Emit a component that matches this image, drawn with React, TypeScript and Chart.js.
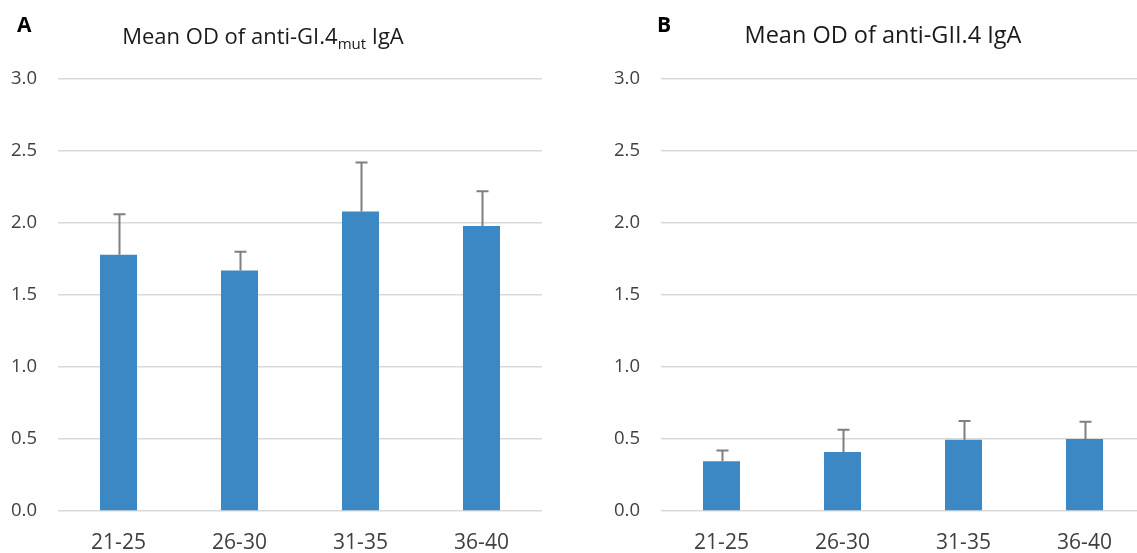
import React, { useEffect, useRef } from "react";
import { Chart, registerables } from "chart.js";

Chart.register(...registerables);

const categories = ["21-25", "26-30", "31-35", "36-40"];
const meanA = [1.78, 1.67, 2.08, 1.98];
const sdA = [0.28, 0.13, 0.34, 0.24];
const meanB = [0.345, 0.41, 0.495, 0.5];
const sdB = [0.075, 0.155, 0.13, 0.12];
const yTicks = [0, 0.5, 1.0, 1.5, 2.0, 2.5, 3.0];

const FONT = "'Open Sans', 'Noto Sans', sans-serif";
const BAR = "#3c88c5";
const ERR = "#7f7f7f";
const GRID = "#d9d9d9";
const TEXT = "#404040";

const errorBarPlugin = {
  id: "errorBars",
  afterDatasetsDraw(chart: any) {
    const sds: number[] = chart.options.plugins.errorBars.sd;
    const ctx = chart.ctx;
    const meta = chart.getDatasetMeta(0);
    const yScale = chart.scales.y;
    const data = chart.data.datasets[0].data as number[];
    ctx.save();
    ctx.strokeStyle = ERR;
    ctx.lineWidth = 2;
    meta.data.forEach((el: any, i: number) => {
      const top = yScale.getPixelForValue(data[i] + sds[i]);
      const x = Math.round(el.x) + 0.5;
      ctx.beginPath();
      ctx.moveTo(x, el.y);
      ctx.lineTo(x, top);
      ctx.moveTo(x - 6, top);
      ctx.lineTo(x + 6, top);
      ctx.stroke();
    });
    ctx.restore();
  },
};

function Panel(props: { values: number[]; sd: number[]; yWidth: number; padRight: number }) {
  const ref = useRef<HTMLCanvasElement>(null);
  useEffect(() => {
    const chart = new Chart(ref.current as HTMLCanvasElement, {
      type: "bar",
      data: {
        labels: categories,
        datasets: [
          {
            data: props.values,
            backgroundColor: BAR,
            borderWidth: 0,
            barPercentage: 0.306,
            categoryPercentage: 1,
          },
        ],
      },
      options: {
        animation: false,
        responsive: false,
        layout: { padding: { top: 79, right: props.padRight, left: 0, bottom: 0 } },
        plugins: {
          legend: { display: false },
          tooltip: { enabled: false },
          errorBars: { sd: props.sd },
        } as any,
        scales: {
          x: {
            grid: { display: false, drawTicks: false },
            border: { display: false },
            ticks: { color: TEXT, font: { family: FONT, size: 21 }, padding: 19 },
            afterFit: (s: any) => {
              s.height = 42;
            },
          },
          y: {
            min: 0,
            max: 3,
            afterBuildTicks: (s: any) => {
              s.ticks = yTicks.map((v) => ({ value: v }));
            },
            grid: { color: GRID, lineWidth: 1.5, drawTicks: false },
            border: { display: false },
            ticks: {
              color: TEXT,
              font: { family: FONT, size: 18.5 },
              padding: 21,
              callback: (v: any) => Number(v).toFixed(1),
            },
            afterFit: (s: any) => {
              s.width = props.yWidth;
            },
          },
        },
      },
      plugins: [errorBarPlugin],
    });
    return () => chart.destroy();
  }, []);
  return <canvas ref={ref} width={560} height={553} style={{ display: "block", width: 560, height: 553 }} />;
}

const labelStyle: React.CSSProperties = {
  position: "absolute",
  fontFamily: FONT,
  fontWeight: 700,
  fontSize: 21,
  color: "#000",
  lineHeight: "21px",
};
const titleStyle: React.CSSProperties = {
  position: "absolute",
  fontFamily: FONT,
  fontSize: 22,
  color: "#1a1a1a",
  lineHeight: "26px",
  whiteSpace: "nowrap",
  textAlign: "center",
  width: 400,
};

export default function App() {
  return (
    <div
      style={{
        position: "absolute",
        left: 0,
        top: 0,
        width: 1137,
        height: 553,
        overflow: "hidden",
        background: "#fff",
      }}
    >
      <div style={{ position: "absolute", left: 0, top: 0 }}>
        <Panel values={meanA} sd={sdA} yWidth={58} padRight={18} />
      </div>
      <div style={{ position: "absolute", left: 600, top: 0 }}>
        <Panel values={meanB} sd={sdB} yWidth={61} padRight={15} />
      </div>
      <div style={{ ...labelStyle, left: 17, top: 14 }}>A</div>
      <div style={{ ...labelStyle, left: 657, top: 14 }}>B</div>
      <div style={{ ...titleStyle, left: 63, top: 22 }}>
        Mean OD of anti-GI.4<sub style={{ fontSize: 15 }}>mut</sub> IgA
      </div>
      <div style={{ ...titleStyle, fontSize: 23.5, left: 683, top: 21 }}>Mean OD of anti-GII.4 IgA</div>
    </div>
  );
}
